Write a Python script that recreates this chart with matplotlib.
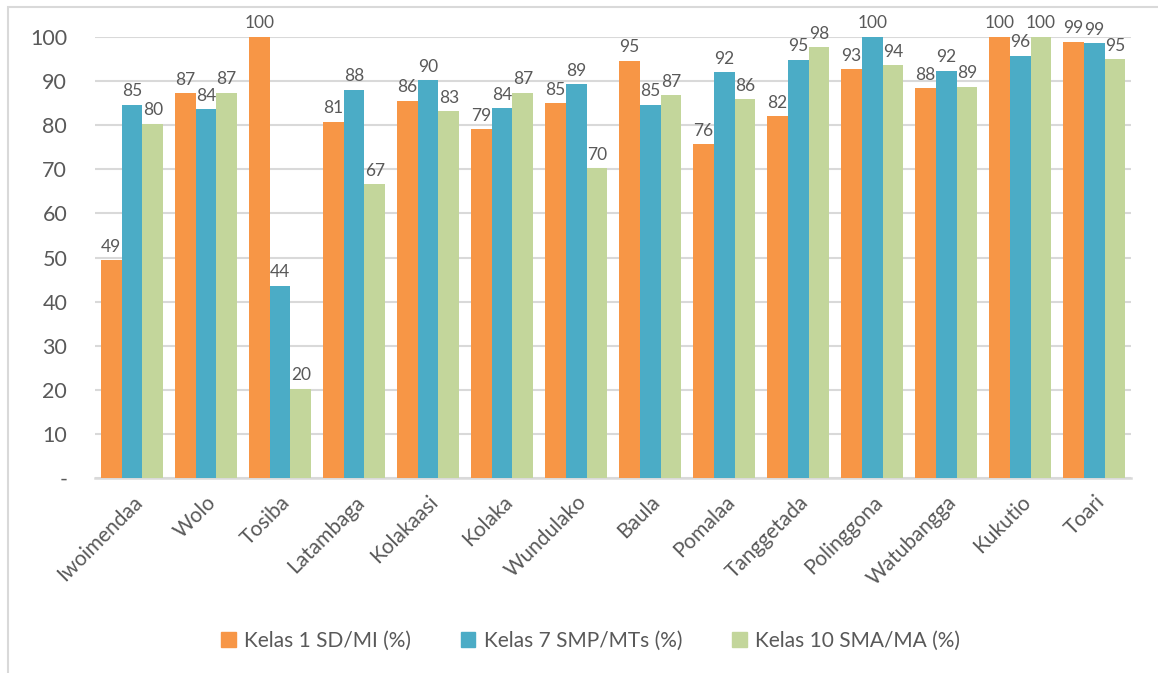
import matplotlib.pyplot as plt
import matplotlib.patches as mpatches
import numpy as np

plt.rcParams['font.family'] = ['Lato', 'DejaVu Sans']

categories = ['Iwoimendaa', 'Wolo', 'Tosiba', 'Latambaga', 'Kolakaasi', 'Kolaka',
              'Wundulako', 'Baula', 'Pomalaa', 'Tanggetada', 'Polinggona',
              'Watubangga', 'Kukutio', 'Toari']
kelas1 = [49.4, 87.2, 100.0, 80.8, 85.6, 79.1, 85.0, 94.6, 75.7, 82.0, 92.7, 88.4, 100.0, 98.9]
kelas7 = [84.6, 83.6, 43.6, 88.0, 90.2, 83.8, 89.3, 84.6, 92.0, 94.8, 100.0, 92.4, 95.7, 98.6]
kelas10 = [80.3, 87.4, 20.3, 66.6, 83.2, 87.3, 70.2, 86.8, 85.9, 97.7, 93.6, 88.7, 100.0, 95.0]
series_names = ['Kelas 1 SD/MI (%)', 'Kelas 7 SMP/MTs (%)', 'Kelas 10 SMA/MA (%)']
yticks = [0, 10, 20, 30, 40, 50, 60, 70, 80, 90, 100]
ytick_labels = ['-', '10', '20', '30', '40', '50', '60', '70', '80', '90', '100']

colors = ['#F79646', '#4BACC6', '#C3D69B']
text_color = '#595959'
grid_color = '#D9D9D9'


def main():
    fig = plt.figure(figsize=(11.58, 6.73), dpi=100)
    ax = fig.add_axes([0.082, 0.2897, 0.895, 0.6553])

    # chart frame
    fig.patches.append(mpatches.Rectangle((8 / 1158, -0.05), 1.1, 1 - 7 / 673 + 0.05,
                                          transform=fig.transFigure, fill=False,
                                          edgecolor=grid_color, linewidth=1.5))

    x = np.arange(len(categories))
    width = 0.28
    for i, vals in enumerate([kelas1, kelas7, kelas10]):
        pos = x + (i - 1) * width
        ax.bar(pos, vals, width, color=colors[i], label=series_names[i], zorder=3)
        for px, v in zip(pos, vals):
            ax.annotate("{:.0f}".format(v), (px, v), xytext=(0, 4),
                        textcoords='offset points', ha='center', va='bottom',
                        fontsize=12.5, color=text_color)

    ax.set_xlim(-0.5, len(categories) - 0.5)
    ax.set_ylim(0, 100)
    ax.set_yticks(yticks, labels=ytick_labels)
    ax.set_xticks(x, labels=categories)
    plt.setp(ax.get_xticklabels(), rotation=45, ha='right', rotation_mode='anchor')
    ax.tick_params(axis='y', length=0, pad=20, labelsize=15.5, labelcolor=text_color)
    ax.tick_params(axis='x', length=0, pad=10, labelsize=15, labelcolor=text_color)

    ax.grid(axis='y', color=grid_color, linewidth=1.5, zorder=0)
    for s in ['top', 'right', 'left']:
        ax.spines[s].set_visible(False)
    ax.spines['bottom'].set_color(grid_color)
    ax.spines['bottom'].set_linewidth(1.8)

    handles = [mpatches.Patch(color=c) for c in colors]
    fig.legend(handles, series_names, loc='center', bbox_to_anchor=(0.51, 0.048),
               ncol=3, frameon=False, fontsize=15, labelcolor=text_color,
               handlelength=0.7, handleheight=0.7, handletextpad=0.4, columnspacing=2.4)

    fig.savefig('out.png', dpi=100)


if __name__ == "__main__":
    main()
